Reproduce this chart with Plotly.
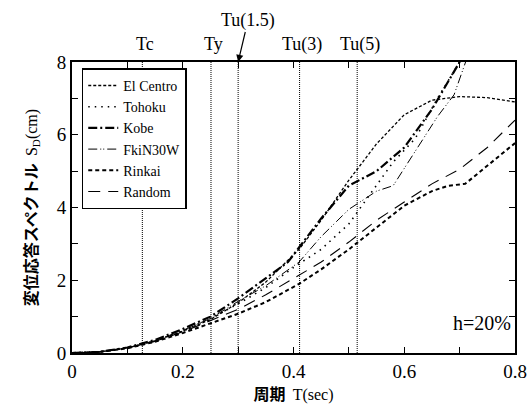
import plotly.graph_objects as go

names = ["El Centro", "Tohoku", "Kobe", "FkiN30W", "Rinkai", "Random"]

t_elcentro = [0, 0.05, 0.1, 0.15, 0.2, 0.25, 0.3, 0.35, 0.41, 0.45, 0.5, 0.55, 0.6, 0.65, 0.7, 0.75, 0.8]
s_elcentro = [0, 0.03, 0.14, 0.33, 0.6, 0.92, 1.38, 1.95, 2.85, 3.65, 4.75, 5.75, 6.55, 6.95, 7.05, 7.02, 6.9]

t_tohoku = [0, 0.05, 0.1, 0.15, 0.2, 0.25, 0.3, 0.35, 0.4, 0.45, 0.5, 0.55, 0.58, 0.62, 0.66, 0.7, 0.72]
s_tohoku = [0, 0.03, 0.14, 0.33, 0.6, 0.95, 1.35, 1.8, 2.35, 2.85, 3.55, 4.6, 5.25, 5.9, 7.0, 8.0, 8.5]

t_kobe = [0, 0.05, 0.1, 0.15, 0.2, 0.25, 0.3, 0.35, 0.39, 0.41, 0.45, 0.5, 0.55, 0.6, 0.65, 0.7, 0.72]
s_kobe = [0, 0.03, 0.15, 0.36, 0.66, 1.0, 1.5, 2.05, 2.5, 2.9, 3.7, 4.6, 5.0, 5.65, 6.7, 8.0, 8.6]

t_fki = [0, 0.05, 0.1, 0.15, 0.2, 0.25, 0.3, 0.35, 0.41, 0.45, 0.5, 0.55, 0.58, 0.62, 0.66, 0.69, 0.72]
s_fki = [0, 0.03, 0.14, 0.34, 0.62, 0.95, 1.42, 1.85, 2.5, 3.2, 3.95, 4.45, 4.6, 5.55, 6.5, 7.1, 8.4]

t_rinkai = [0, 0.05, 0.1, 0.15, 0.2, 0.25, 0.3, 0.35, 0.41, 0.45, 0.5, 0.55, 0.6, 0.65, 0.68, 0.71, 0.75, 0.8]
s_rinkai = [0, 0.03, 0.13, 0.31, 0.55, 0.82, 1.08, 1.4, 1.9, 2.3, 2.85, 3.45, 4.05, 4.45, 4.6, 4.65, 5.15, 5.77]

t_random = [0, 0.05, 0.1, 0.15, 0.2, 0.25, 0.3, 0.35, 0.41, 0.45, 0.5, 0.55, 0.6, 0.65, 0.7, 0.75, 0.8]
s_random = [0, 0.03, 0.14, 0.32, 0.58, 0.88, 1.2, 1.6, 2.15, 2.5, 3.05, 3.65, 4.15, 4.65, 5.05, 5.65, 6.4]

period_names = ["Tc", "Ty", "Tu(1.5)", "Tu(3)", "Tu(5)"]
period_values = [0.127, 0.251, 0.30, 0.411, 0.515]

series = [
    (t_elcentro, s_elcentro, dict(width=1.3, dash="3px,2px")),
    (t_tohoku, s_tohoku, dict(width=1.6, dash="1.5px,5px")),
    (t_kobe, s_kobe, dict(width=2.2, dash="9px,3px,2px,3px")),
    (t_fki, s_fki, dict(width=1.0, dash="9px,3px,1px,2px,1px,3px")),
    (t_rinkai, s_rinkai, dict(width=2.0, dash="4px,3px")),
    (t_random, s_random, dict(width=1.1, dash="12px,8px")),
]

SERIF = "Times New Roman, Liberation Serif, DejaVu Serif, serif"
CJK = "Noto Sans CJK JP"

fig = go.Figure()
for name, (t, s, ln) in zip(names, series):
    fig.add_trace(go.Scatter(x=t, y=s, mode="lines", name=name,
                             line=dict(color="black", **ln)))

for v in period_values:
    fig.add_shape(type="line", x0=v, x1=v, y0=0, y1=8, xref="x", yref="y",
                  line=dict(color="black", width=1, dash="1px,1px"), layer="below")

for nm, v in zip(period_names, period_values):
    if nm == "Tu(1.5)":
        fig.add_annotation(x=v, y=8, xref="x", yref="y", text=nm, showarrow=True,
                           ax=10, ay=-42, arrowhead=2, arrowsize=1.2, arrowwidth=1.2,
                           arrowcolor="black", standoff=0,
                           font=dict(family=SERIF, size=18, color="black"))
    else:
        fig.add_annotation(x=v + 0.005, y=8, xref="x", yref="y", text=nm, showarrow=False,
                           yshift=18, yanchor="middle",
                           font=dict(family=SERIF, size=18, color="black"))

fig.add_annotation(x=0.74, y=0.82, xref="x", yref="y", text="h=20%", showarrow=False,
                   font=dict(family=SERIF, size=20, color="black"))

axis_common = dict(showline=True, linecolor="black", linewidth=2, mirror="ticks",
                   ticks="inside", ticklen=6, tickwidth=1, tickcolor="black",
                   showgrid=False, zeroline=False, automargin=False,
                   tickfont=dict(family=SERIF, size=19, color="black"))

fig.update_xaxes(range=[0, 0.8], dtick=0.2, tick0=0,
                 minor=dict(dtick=0.1, ticks="inside", ticklen=6, tickcolor="black"),
                 title=dict(text="<b>周期</b>  <span style=\"font-family:'Times New Roman','Liberation Serif',serif\">T(sec)</span>",
                            font=dict(family=CJK, size=16, color="black")),
                 **axis_common)
fig.update_yaxes(range=[0, 8], dtick=2, tick0=0,
                 minor=dict(dtick=1, ticks="inside", ticklen=6, tickcolor="black"),
                 title=dict(text="<b>変位応答スペクトル</b>  <span style=\"font-family:'Times New Roman','Liberation Serif',serif\">S<sub>D</sub>(cm)</span>",
                            font=dict(family=CJK, size=16, color="black")),
                 **axis_common)

fig.update_layout(
    width=528, height=405,
    margin=dict(l=72, r=13, t=62, b=52),
    plot_bgcolor="white", paper_bgcolor="white",
    showlegend=True,
    legend=dict(x=0.022, y=0.978, xanchor="left", yanchor="top",
                bgcolor="white", bordercolor="black", borderwidth=1.5,
                font=dict(family=SERIF, size=14, color="black"),
                tracegroupgap=0, itemwidth=30),
)

fig.write_html("out.html")
